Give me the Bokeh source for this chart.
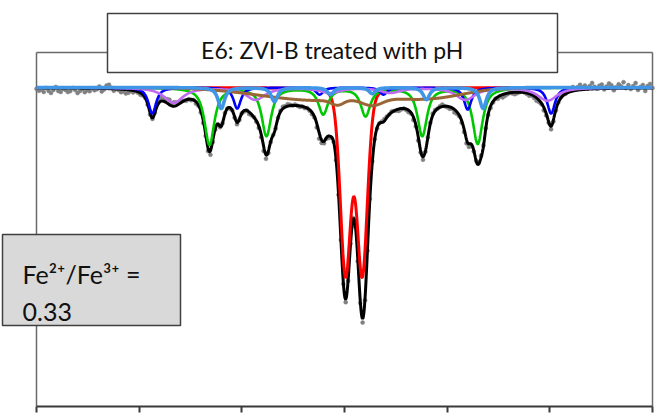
import numpy as np
from bokeh.plotting import figure
from bokeh.models import Range1d, FixedTicker
from bokeh.core.properties import value
from bokeh.embed import file_html
from bokeh.resources import INLINE

# ---------------- data ----------------
# velocity axis, mm/s
x_ticks = [-12, -8, -4, 0, 4, 8, 12]
n_channels = 256

# fitted sub-spectra: line centres (mm/s), depths (fraction of baseline),
# half widths (mm/s) and Lorentzian share of the line shape
red_centers = [0.04, 0.69]
red_depths = [0.0924, 0.0924]
red_hwhm = [0.24, 0.24]
red_eta = 0.2

green_centers = [-5.26, -3.04, -0.83, 0.82, 3.03, 5.19]
green_depths = [0.0285, 0.024, 0.013, 0.014, 0.024, 0.028]
green_hwhm = [0.23, 0.22, 0.22, 0.22, 0.22, 0.23]
green_eta = 0.85

blue_centers = [-7.49, -4.18, -0.97, 1.52, 4.80, 8.05]
blue_depths = [0.013, 0.0105, 0.0035, 0.0035, 0.011, 0.013]
blue_hwhm = [0.18, 0.17, 0.17, 0.17, 0.17, 0.18]
blue_eta = 0.85

violet_centers = [-6.66, -3.47, -0.55, 1.79, 4.71, 7.91]
violet_depths = [0.0075, 0.006, 0.0025, 0.0025, 0.006, 0.0065]
violet_hwhm = [0.45, 0.45, 0.45, 0.45, 0.45, 0.45]
violet_eta = 0.85

lightblue_centers = [-4.80, -2.73, -0.55, 1.08, 3.19, 5.40]
lightblue_depths = [0.0105, 0.007, 0.0035, 0.003, 0.006, 0.0105]
lightblue_hwhm = [0.15, 0.15, 0.15, 0.15, 0.15, 0.15]
lightblue_eta = 0.85

brown_centers = [-0.94, 3.35, -0.27, 1.09]
brown_depths = [0.0065, 0.0045, 0.0025, 0.0035]
brown_hwhm = [2.75, 1.60, 0.275, 0.46]
brown_eta = 0.0

# measured points: offset of each channel from the fitted envelope (pixels, + = lower)
residual_px = [
    1, 3, 2, 4, 0, 3, 5, 2, -1, 3, 4, 1, 2, 4, 3, 0,
    2, 5, 3, 1, 4, 2, 3, 0, 2, 1, -2, 3, 1, -3, -4, -1,
    2, 0, 1, 3, 2, 4, 3, 1, 2, 0, 1, 2, 1, 0, 1, 2,
    1, 0, -2, -3, -4, -3, -4, -5, -3, -4, -3, -2, -1, 0, 1, 0,
    1, 0, 2, 1, 2, 3, 2, 3, 4, 2, 1, 0, 1, 0, -1, 0,
    1, 0, 1, 2, 1, 0, 1, 0, 2, 1, 0, 1, 2, 3, 5, 4,
    2, 1, 0, 1, 0, -1, -2, -1, -2, -1, 0, -1, 0, 1, 0, 1,
    0, 1, 2, 1, 4, 6, 3, 2, 1, 2, 1, 0, 1, 2, 1, 2,
    3, 1, 0, -2, 1, 2, 3, 4, 2, 1, 0, -1, 0, 1, 0, -1,
    -2, -1, 0, -1, 0, 1, 2, 1, 0, 1, 2, 1, 3, 2, 4, 2,
    3, 1, 0, -1, -2, -1, 0, -1, -2, 0, 1, 2, 1, 3, 2, 1,
    2, 3, 4, 3, 2, 1, 0, -1, -2, -1, 0, 1, 2, 1, 0, 2,
    1, 3, 2, 1, 0, 1, 2, 1, 0, -1, 0, 1, 2, 1, 2, 3,
    2, 1, 3, 2, 1, 3, 2, 1, 0, -1, -2, 0, -3, -2, -4, -1,
    -3, -5, -2, -4, -1, -3, -6, -2, 0, -3, -4, 1, -2, -5, -3, 2,
    -1, -4, -2, -6, 0, -3, 1, -2, -5, 2, -1, -3, 3, -2, -4, 0,
]

title_text = "E6: ZVI-B treated with pH"
ratio_label = "Fe\u00b2\u207a/Fe\u00b3\u207a ="
ratio_value = "0.33"

# ---------------- layout constants ----------------
PX_PER_MM = 25.667
PX_PER_UNIT = 2000.0
X0 = -12 - 36 / PX_PER_MM
X1 = -12 + (666 - 36) / PX_PER_MM
Y_TOP = 1.0 + 87 / PX_PER_UNIT
Y_BOT = 1.0 - 319 / PX_PER_UNIT
FRAME_TOP = 1.0 - (52 - 87) / PX_PER_UNIT


def px_x(px):
    return -12 + (px - 36) / PX_PER_MM


def px_y(py):
    return 1.0 - (py - 87) / PX_PER_UNIT


def line_shape(v, centers, depths, hwhm, eta):
    out = np.zeros_like(v)
    for c, d, g in zip(centers, depths, hwhm):
        u = (v - c) / g
        out += d * (eta / (1 + u * u) + (1 - eta) * np.exp(-np.log(2) * u * u))
    return out


v = np.linspace(-12, 12, 1601)
components = [
    ("red", "#ff0000", 3.0, red_centers, red_depths, red_hwhm, red_eta),
    ("green", "#00c800", 2.6, green_centers, green_depths, green_hwhm, green_eta),
    ("blue", "#0000ff", 2.6, blue_centers, blue_depths, blue_hwhm, blue_eta),
    ("violet", "#c06cf2", 2.6, violet_centers, violet_depths, violet_hwhm, violet_eta),
    ("brown", "#9a6636", 3.0, brown_centers, brown_depths, brown_hwhm, brown_eta),
    ("lightblue", "#3f95e6", 3.6, lightblue_centers, lightblue_depths, lightblue_hwhm, lightblue_eta),
]

absorption = {}
for name, color, lw, c, d, g, eta in components:
    absorption[name] = line_shape(v, c, d, g, eta)
total = 1.0 - sum(absorption.values())

v_ch = np.linspace(-12, 12, n_channels)
total_ch = 1.0 - sum(line_shape(v_ch, c, d, g, eta) for _, _, _, c, d, g, eta in components)
counts = total_ch - np.array(residual_px) / PX_PER_UNIT

p = figure(width=666, height=419, x_range=Range1d(X0, X1), y_range=Range1d(Y_BOT, Y_TOP),
           output_backend="svg", toolbar_location=None, y_axis_type=None,
           min_border_left=0, min_border_right=0, min_border_top=0, min_border_bottom=13)
p.outline_line_color = None
p.grid.visible = False
p.background_fill_color = "white"
p.border_fill_color = "white"

ax = p.xaxis[0]
ax.ticker = FixedTicker(ticks=x_ticks)
ax.bounds = (-12, 12)
ax.major_label_overrides = {t: "" for t in x_ticks}
ax.major_label_text_font_size = "1px"
ax.major_label_standoff = 0
ax.major_tick_out = 6
ax.major_tick_in = 0
ax.minor_tick_out = 0
ax.minor_tick_in = 0
ax.axis_line_color = "#3a3a3a"
ax.axis_line_width = 2
ax.major_tick_line_color = "#3a3a3a"
ax.major_tick_line_width = 2

# plot frame lines
p.segment(x0=[-12, 12, -12], y0=[Y_BOT, Y_BOT, FRAME_TOP], x1=[-12, 12, 12], y1=[FRAME_TOP, FRAME_TOP, FRAME_TOP],
          line_color="#6a6a6a", line_width=1.5)

p.scatter(v_ch, counts, size=4, fill_color="#808080", line_color="#808080", line_width=0.5)
p.line(v, total, line_color="black", line_width=3)
for name, color, lw, c, d, g, eta in components:
    p.line(v, 1.0 - absorption[name], line_color=color, line_width=lw)

# title box
p.quad(left=[px_x(107)], right=[px_x(557)], top=[px_y(13)], bottom=[px_y(72)],
       fill_color="white", line_color="#404040", line_width=1.5)
p.text(x=[px_x(332)], y=[px_y(49)], text=[title_text], text_font=value("Lato"),
       text_font_size="23px", text_align="center", text_baseline="alphabetic", text_color="#111111")

# ratio box
p.quad(left=[px_x(2)], right=[px_x(180)], top=[px_y(234)], bottom=[px_y(325)],
       fill_color="#d9d9d9", line_color="#404040", line_width=1.5)
p.text(x=[px_x(22), px_x(22)], y=[px_y(273), px_y(311)], text=[ratio_label, ratio_value],
       text_font=value("Lato"), text_font_size="25px", text_align="left",
       text_baseline="alphabetic", text_color="#111111")

open("out.html", "w").write(file_html(p, INLINE))
